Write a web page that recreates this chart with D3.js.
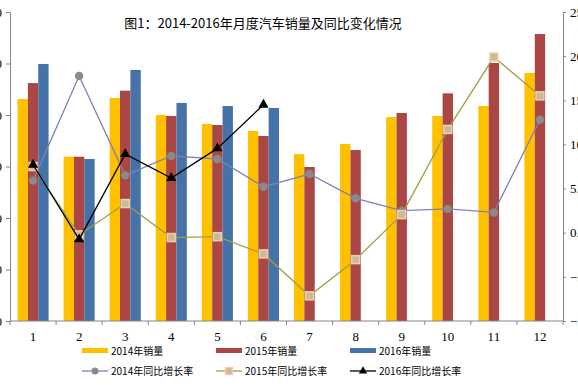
<!DOCTYPE html>
<html>
<head>
<meta charset="utf-8">
<script src="https://cdn.jsdelivr.net/npm/d3@7"></script>
<style>
  body { margin: 0; background: #fff; }
  svg { display: block; }
  .axis path, .axis line { stroke: #868686; }
  .axis text { font-family: "Liberation Serif", serif; font-size: 13px; fill: #000; }
  .chart-title { font-family: "Noto Sans CJK SC", sans-serif; font-size: 13px; }
  .legend-label { font-family: "Noto Sans CJK SC", sans-serif; font-size: 10px; }
</style>
</head>
<body>
<script>
// Chart size (page is 578x391, chart is cropped at both sides)
const width = 578;
const height = 391;
const margin = { top: 12, right: 15, bottom: 70, left: 10 };

// Data: monthly sales (万辆) and year-on-year growth (%)
const months = ["1", "2", "3", "4", "5", "6", "7", "8", "9", "10", "11", "12"];
const years = ["2014", "2015", "2016"];

const sales2014 = [215.5, 159.5, 216.5, 200, 191.3, 184.5, 162, 171.8, 198, 199, 208.7, 240.8];
const sales2015 = [231, 159.5, 223.6, 199, 190.3, 179.6, 149.5, 166, 202, 221, 250.5, 278.6];
const sales2016 = [249.5, 157.3, 243.7, 211.7, 208.7, 206.8];

const growth2014 = [5.9, 17.75, 6.5, 8.7, 8.35, 5.2, 6.65, 3.9, 2.5, 2.7, 2.3, 12.8];
const growth2015 = [7.5, -0.25, 3.3, -0.55, -0.45, -2.4, -7.15, -3.05, 2.05, 11.7, 19.9, 15.5];
const growth2016 = [7.7, -0.75, 8.9, 6.2, 9.55, 14.5];

const leftTicks = [0, 50, 100, 150, 200, 250, 300];
const rightTicks = [-10, -5, 0, 5, 10, 15, 20, 25];

const barColors = { "2014": "#FFC000", "2015": "#AA4644", "2016": "#4572A7" };

const svg = d3.select("body")
    .append("svg")
    .attr("width", width)
    .attr("height", height);

// Scales
const xScale = d3.scaleBand()
    .domain(months)
    .range([margin.left, width - margin.right]);

const bw = xScale.bandwidth();
const xSub = d3.scaleBand()
    .domain(years)
    .range([7.5, bw - 7.5]);

const yLeft = d3.scaleLinear()
    .domain([0, 300])
    .range([height - margin.bottom, margin.top]);

const yRight = d3.scaleLinear()
    .domain([-10, 25])
    .range([height - margin.bottom, margin.top]);

// Bars
const barSeries = [
    { year: "2014", values: sales2014 },
    { year: "2015", values: sales2015 },
    { year: "2016", values: sales2016 }
];

barSeries.forEach(s => {
    svg.append("g")
        .selectAll("rect")
        .data(s.values)
        .join("rect")
        .attr("x", (d, i) => xScale(months[i]) + xSub(s.year))
        .attr("y", d => yLeft(d))
        .attr("width", xSub.bandwidth())
        .attr("height", d => yLeft(0) - yLeft(d))
        .attr("fill", barColors[s.year]);
});

// Axes
svg.append("g")
    .attr("class", "axis")
    .attr("transform", `translate(${margin.left},0)`)
    .call(d3.axisLeft(yLeft).tickValues(leftTicks).tickSize(4).tickPadding(4).tickSizeOuter(0));

svg.append("g")
    .attr("class", "axis")
    .attr("transform", `translate(${width - margin.right},0)`)
    .call(d3.axisRight(yRight).tickValues(rightTicks).tickSize(3).tickPadding(4)
        .tickSizeOuter(0).tickFormat(d3.format(".1f")));

const xAxis = svg.append("g")
    .attr("class", "axis")
    .attr("transform", `translate(0,${height - margin.bottom})`);
xAxis.append("line")
    .attr("x1", margin.left).attr("x2", width - margin.right)
    .attr("stroke", "#868686");
xAxis.selectAll(".tick-mark")
    .data(months.concat(["end"]))
    .join("line")
    .attr("x1", (d, i) => margin.left + i * bw)
    .attr("x2", (d, i) => margin.left + i * bw)
    .attr("y1", 0).attr("y2", 4)
    .attr("stroke", "#868686");
xAxis.selectAll("text")
    .data(months)
    .join("text")
    .attr("x", d => xScale(d) + bw / 2)
    .attr("y", 20)
    .attr("text-anchor", "middle")
    .text(d => d);

// Lines
const lineFor = d3.line()
    .x((d, i) => xScale(months[i]) + bw / 2)
    .y(d => yRight(d));

svg.append("path")
    .datum(growth2014)
    .attr("d", lineFor)
    .attr("fill", "none")
    .attr("stroke", "#8080B8")
    .attr("stroke-width", 1.3);
svg.append("g")
    .selectAll("circle")
    .data(growth2014)
    .join("circle")
    .attr("cx", (d, i) => xScale(months[i]) + bw / 2)
    .attr("cy", d => yRight(d))
    .attr("r", 4.2)
    .attr("fill", "#8A8A8A");

svg.append("path")
    .datum(growth2015)
    .attr("d", lineFor)
    .attr("fill", "none")
    .attr("stroke", "#A0A040")
    .attr("stroke-width", 1.3);
svg.append("g")
    .selectAll("rect")
    .data(growth2015)
    .join("rect")
    .attr("x", (d, i) => xScale(months[i]) + bw / 2 - 4)
    .attr("y", d => yRight(d) - 4)
    .attr("width", 8)
    .attr("height", 8)
    .attr("fill", "#C4BD97")
    .attr("stroke", "#F8CBAD")
    .attr("stroke-width", 1.5);

svg.append("path")
    .datum(growth2016)
    .attr("d", lineFor)
    .attr("fill", "none")
    .attr("stroke", "#000")
    .attr("stroke-width", 1.3);
svg.append("g")
    .selectAll("path")
    .data(growth2016)
    .join("path")
    .attr("transform", (d, i) => `translate(${xScale(months[i]) + bw / 2},${yRight(d)})`)
    .attr("d", d3.symbol(d3.symbolTriangle, 45))
    .attr("fill", "#000");

// Title
svg.append("text")
    .attr("class", "chart-title")
    .attr("x", 263)
    .attr("y", 28)
    .attr("text-anchor", "middle")
    .text("图1：2014-2016年月度汽车销量及同比变化情况");

// Legend
const legendX = [82, 216, 350];
const row1 = 350.5;
const row2 = 371;

years.forEach((y, i) => {
    svg.append("rect")
        .attr("x", legendX[i])
        .attr("y", row1 - 2.5)
        .attr("width", 26)
        .attr("height", 5)
        .attr("fill", barColors[y]);
    svg.append("text")
        .attr("class", "legend-label")
        .attr("x", legendX[i] + 29)
        .attr("y", row1 + 4)
        .text(y + "年销量");
});

const lineLegend = [
    { year: "2014", color: "#8080B8", marker: "circle" },
    { year: "2015", color: "#A0A040", marker: "square" },
    { year: "2016", color: "#000", marker: "triangle" }
];

lineLegend.forEach((l, i) => {
    const x0 = legendX[i];
    svg.append("line")
        .attr("x1", x0).attr("x2", x0 + 26)
        .attr("y1", row2).attr("y2", row2)
        .attr("stroke", l.color)
        .attr("stroke-width", 1.3);
    if (l.marker === "circle") {
        svg.append("circle").attr("cx", x0 + 13).attr("cy", row2).attr("r", 3.5).attr("fill", "#8A8A8A");
    } else if (l.marker === "square") {
        svg.append("rect").attr("x", x0 + 9.5).attr("y", row2 - 3.5).attr("width", 7).attr("height", 7)
            .attr("fill", "#C4BD97").attr("stroke", "#F8CBAD").attr("stroke-width", 1.5);
    } else {
        svg.append("path").attr("transform", `translate(${x0 + 13},${row2})`)
            .attr("d", d3.symbol(d3.symbolTriangle, 30)).attr("fill", "#000");
    }
    svg.append("text")
        .attr("class", "legend-label")
        .attr("x", x0 + 29)
        .attr("y", row2 + 4)
        .text(l.year + "年同比增长率");
});
</script>
</body>
</html>
